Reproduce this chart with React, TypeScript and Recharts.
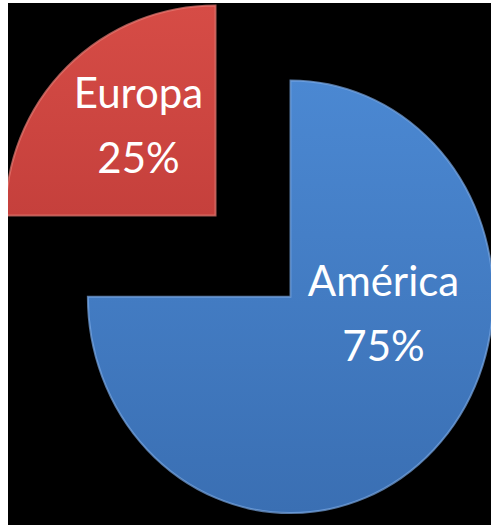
import React from 'react';
import { PieChart, Pie, Sector, Cell } from 'recharts';

const regions = ['América', 'Europa'];
const shares = [75, 25];

const chartData = regions.map((name, i) => ({ name, value: shares[i] }));

const EXPLODE = 53;
const RADIAN = Math.PI / 180;

// top / bottom gradient stops per slice, light edge colour
const sliceColors = [
  { top: '#4b88d2', bottom: '#3a6fb3', edge: '#79a8e4' },
  { top: '#d64c46', bottom: '#c5403c', edge: '#e87a74' },
];

// the original is drawn in slight perspective, the big slice looks taller than wide
const sliceStretch = [
  { sx: 0.965, sy: 1.03 },
  { sx: 1, sy: 1 },
];

// label anchor relative to the exploded slice centre
const labelOffsets = [
  { dx: 93, dy: 6 },
  { dx: -77, dy: -108 },
];

const explode = (cx: number, cy: number, midAngle: number) => ({
  x: cx + EXPLODE * Math.cos(-midAngle * RADIAN),
  y: cy + EXPLODE * Math.sin(-midAngle * RADIAN),
});

const SliceShape = (props: any) => {
  const { cx, cy, midAngle, index, outerRadius } = props;
  const c = sliceColors[index] ?? sliceColors[0];
  const s = sliceStretch[index] ?? { sx: 1, sy: 1 };
  const p = explode(cx, cy, midAngle);
  const gid = `slice-grad-${index}`;
  // stretch around the top of the circle so the upper edge stays put
  const ax = p.x;
  const ay = p.y - outerRadius;
  const transform = `translate(${ax} ${ay}) scale(${s.sx} ${s.sy}) translate(${-ax} ${-ay})`;
  return (
    <g transform={transform}>
      <defs>
        <linearGradient id={gid} x1="0" y1="0" x2="0" y2="1">
          <stop offset="0%" stopColor={c.top} />
          <stop offset="100%" stopColor={c.bottom} />
        </linearGradient>
      </defs>
      <Sector
        cx={p.x}
        cy={p.y}
        innerRadius={0}
        outerRadius={outerRadius}
        startAngle={props.startAngle}
        endAngle={props.endAngle}
        fill={`url(#${gid})`}
        stroke={c.edge}
        strokeWidth={2}
        strokeOpacity={0.7}
      />
    </g>
  );
};

const renderLabel = (props: any) => {
  const { cx, cy, midAngle, index, name, percent } = props;
  const p = explode(cx, cy, midAngle);
  const off = labelOffsets[index] ?? { dx: 0, dy: 0 };
  const x = p.x + off.dx;
  const y = p.y + off.dy;
  return (
    <text
      x={x}
      y={y}
      fill="#ffffff"
      textAnchor="middle"
      fontFamily="Lato, 'Open Sans', sans-serif"
      fontSize={42}
    >
      <tspan x={x} y={y}>{name}</tspan>
      <tspan x={x} y={y + 65}>{`${Math.round(percent * 100)}%`}</tspan>
    </text>
  );
};

export default function App() {
  return (
    <div
      style={{
        position: 'absolute',
        left: 8,
        top: 3,
        width: 483,
        height: 522,
        background: '#000000',
        overflow: 'hidden',
      }}
    >
      <PieChart width={483} height={522} margin={{ top: 0, right: 0, bottom: 0, left: 0 }}>
        <Pie
          data={chartData}
          dataKey="value"
          nameKey="name"
          cx={245}
          cy={250}
          outerRadius={210}
          startAngle={90}
          endAngle={-270}
          stroke="none"
          labelLine={false}
          label={renderLabel}
          shape={SliceShape}
          activeShape={SliceShape}
          isAnimationActive={false}
        >
          {chartData.map((d, i) => (
            <Cell key={d.name} fill={sliceColors[i].top} />
          ))}
        </Pie>
      </PieChart>
    </div>
  );
}
